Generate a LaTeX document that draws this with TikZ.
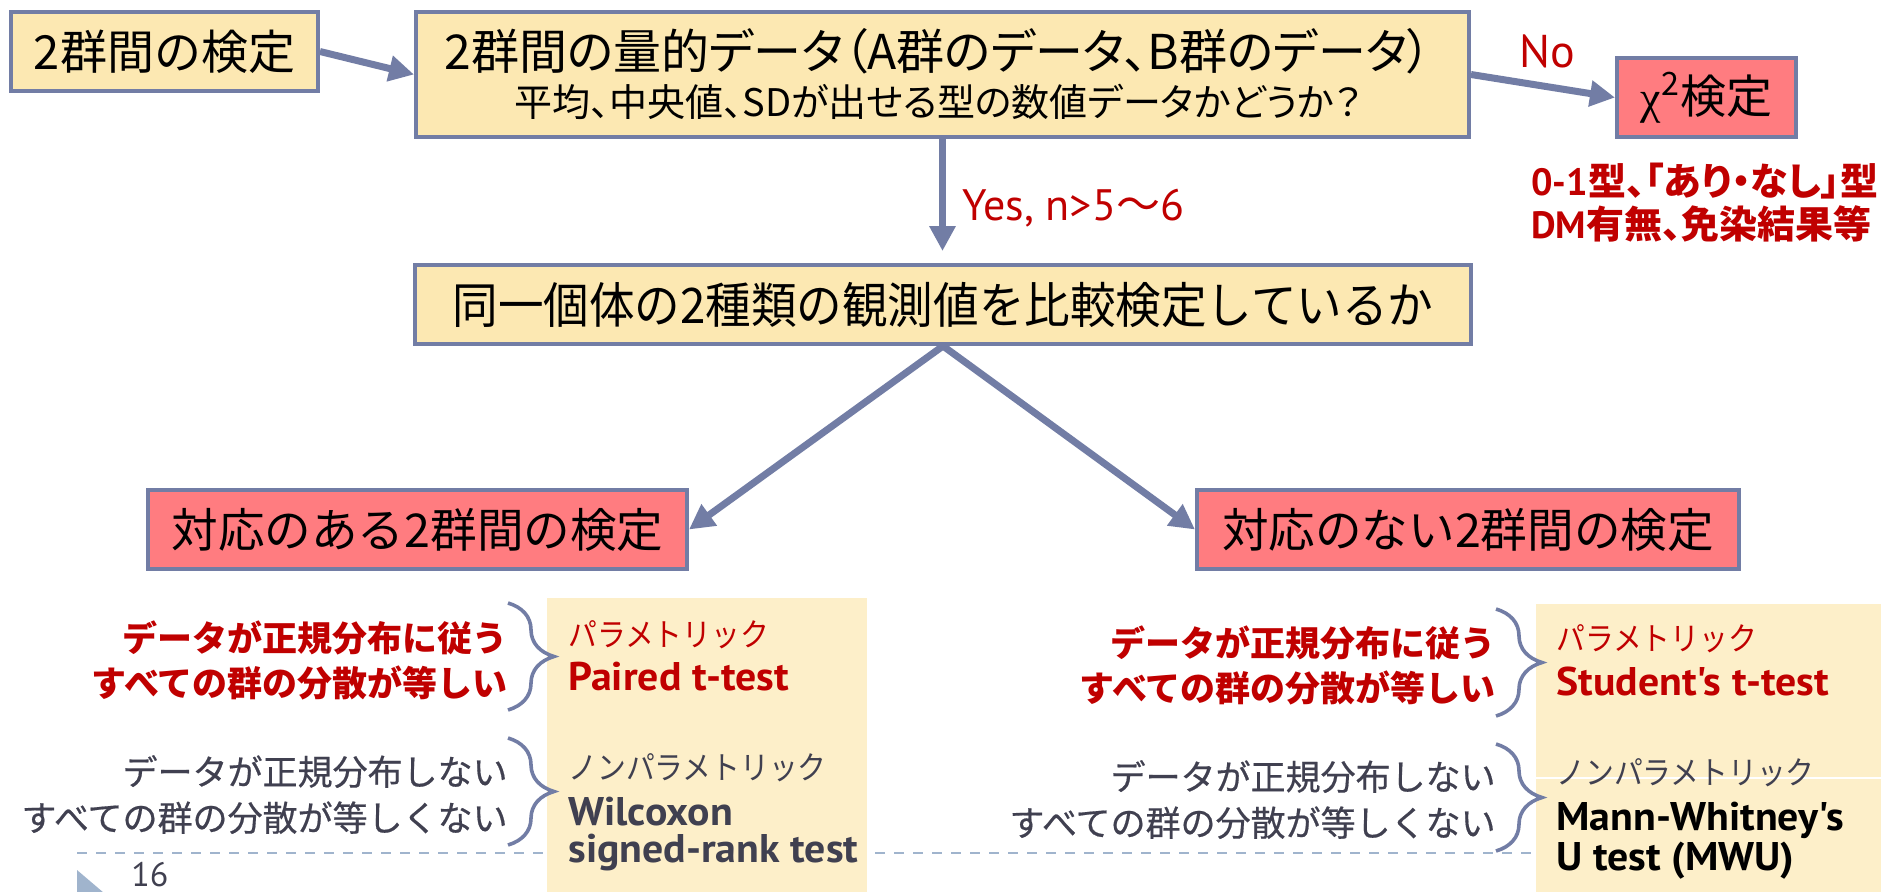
\documentclass[tikz,border=0pt]{standalone}
\usepackage{fontspec}
\setmainfont{Noto Sans CJK JP}
\newfontfamily\gill{PT Sans}
\newfontfamily\grk{Liberation Serif}
\usetikzlibrary{arrows.meta,decorations.pathreplacing}
\definecolor{slate}{RGB}{114,125,165}
\definecolor{ylw}{RGB}{252,232,178}
\definecolor{pnl}{RGB}{253,239,201}
\definecolor{pnk}{RGB}{255,124,128}
\definecolor{dred}{RGB}{192,0,0}
\definecolor{dgray}{RGB}{64,64,80}
\definecolor{dashc}{RGB}{160,180,205}
\newcommand{\myfs}[1]{\fontsize{#1}{#1}\selectfont}
\newcommand{\mypalt}{\addfontfeatures{RawFeature=+palt}}
\newcommand{\mystr}[1]{\addfontfeatures{FakeStretch=#1}}
\newcommand{\myfb}{\addfontfeatures{FakeBold=0.5}}
\begin{document}
\begin{tikzpicture}[x=0.5pt,y=-0.5pt,
  box/.style={draw=slate, line width=2pt, inner sep=0pt, text=black},
  ybox/.style={box, fill=ylw},
  pbox/.style={box, fill=pnk},
  arr/.style={draw=slate, line width=3.5pt, -{Triangle[length=12.5pt,width=12.5pt]}},
  brc/.style={draw=slate, line width=1.8pt, decorate, decoration={brace, amplitude=23pt}},
  dashln/.style={draw=dashc, line width=1.3pt, dash pattern=on 5pt off 4.5pt},
  lbl/.style={inner sep=0pt},
  latb/.style={lbl, anchor=base west, font=\gill\bfseries\myfs{20pt}\mystr{1.045}},
  kata/.style={lbl, anchor=base west, font=\myfs{16pt}\mystr{0.9}}]
\useasboundingbox (0,0) rectangle (1881,891);
\fill[white] (0,0) rectangle (1881,891);

% footer
\draw[dashln] (77,853) -- (1536,853);
\fill[dashc] (77,870) -- (104,893) -- (77,916) -- cycle;
\node[lbl, anchor=base west, font=\gill\myfs{17pt}, text=dgray] (pg) at (131,886) {16};

% panels
\fill[pnl] (547,598) rectangle (867,895);
\fill[pnl] (1536,604) rectangle (1885,895);
\draw[white, line width=0.6pt] (1536,778) -- (1881,778);

% boxes
\node[ybox, minimum width=153.5pt, minimum height=39.5pt, font=\myfs{23.5pt}] (b1) at (164.5,51.5) {2群間の検定};
\node[ybox, minimum width=526.5pt, minimum height=62.5pt] (mn) at (942.5,74.5) {};
\node[lbl, anchor=base, font=\myfs{24pt}\mypalt] (mn1) at (938,69) {2群間の量的データ（A群のデータ、B群のデータ）};
\node[lbl, anchor=base, font=\myfs{19pt}\mypalt] (mn2) at (938,116) {平均、中央値、SDが出せる型の数値データかどうか？};
\node[pbox, minimum width=89.5pt, minimum height=39.5pt, font=\myfs{23pt}] (chi) at (1706.5,97.5) {{\grk χ}\textsuperscript{2}検定};
\node[ybox, minimum width=528pt, minimum height=39.5pt, font=\myfs{24.5pt}\mystr{0.93}] (b3) at (943,304.5) {同一個体の2種類の観測値を比較検定しているか};
\node[pbox, minimum width=269.5pt, minimum height=39.5pt, font=\myfs{23.3pt}] (b4) at (417.5,529.5) {対応のある2群間の検定};
\node[pbox, minimum width=271pt, minimum height=39.5pt, font=\myfs{23.3pt}] (b5) at (1468,529.5) {対応のない2群間の検定};

% labels near arrows
\node[lbl, anchor=base west, font=\gill\myfs{23pt}, text=dred] (no) at (1519,67) {No};
\node[lbl, anchor=base west, font=\gill\myfs{22pt}, text=dred] (yes) at (962,220) {Yes, n>5{\rmfamily ～}6};
\node[lbl, anchor=base west, font=\bfseries\myfs{19pt}\mypalt, text=dred] (nt1) at (1531,195) {{\gill\bfseries 0-1}型、「あり・なし」型};
\node[lbl, anchor=base west, font=\bfseries\myfs{19pt}\mypalt, text=dred] (nt2) at (1531,238) {{\gill\bfseries DM}有無、免染結果等};

% arrows
\draw[arr] (b1.east) -- (mn.west);
\draw[arr] (mn.east) -- (chi.west);
\draw[arr, shorten >=6pt] (mn.south) -- (mn.south |- b3.north);
\draw[arr] (b3.south) -- (b4.east);
\draw[arr] (b3.south) -- (b5.west);

% braces
\coordinate (lb1t) at (508,603); \coordinate (lb1b) at (508,710);
\coordinate (lb2t) at (508,738); \coordinate (lb2b) at (508,845);
\coordinate (rb1t) at (1496,609); \coordinate (rb1b) at (1496,716);
\coordinate (rb2t) at (1496,744); \coordinate (rb2b) at (1496,851);
\draw[brc] (lb1t) -- (lb1b);
\draw[brc] (lb2t) -- (lb2b);
\draw[brc] (rb1t) -- (rb1b);
\draw[brc] (rb2t) -- (rb2b);

% left conditions
\node[lbl, anchor=base east, font=\bfseries\myfs{17.5pt}, text=dred] (l1) at (508,651) {データが正規分布に従う};
\node[lbl, anchor=base east, font=\bfseries\myfs{17.5pt}, text=dred] (l2) at (508,696) {すべての群の分散が等しい};
\node[lbl, anchor=base east, font=\myfs{17.5pt}\myfb, text=dgray] (l3) at (508,785) {データが正規分布しない};
\node[lbl, anchor=base east, font=\myfs{17.5pt}\myfb, text=dgray] (l4) at (508,831) {すべての群の分散が等しくない};
\node[lbl, anchor=base east, font=\bfseries\myfs{17.5pt}, text=dred] (r1) at (1496,656) {データが正規分布に従う};
\node[lbl, anchor=base east, font=\bfseries\myfs{17.5pt}, text=dred] (r2) at (1496,701) {すべての群の分散が等しい};
\node[lbl, anchor=base east, font=\myfs{17.5pt}\myfb, text=dgray] (r3) at (1496,790) {データが正規分布しない};
\node[lbl, anchor=base east, font=\myfs{17.5pt}\myfb, text=dgray] (r4) at (1496,836) {すべての群の分散が等しくない};

% panel texts
\node[kata, text=dred] (p1) at (568,646) {パラメトリック};
\node[latb, text=dred] (p2) at (568,690) {Paired t-test};
\node[kata, text=dgray] (p3) at (568,779) {ノンパラメトリック};
\node[latb, text=dgray] (p4) at (568,825) {Wilcoxon};
\node[latb, text=dgray] (p5) at (568,862) {signed-rank test};
\node[kata, text=dred] (q1) at (1556,650) {パラメトリック};
\node[latb, text=dred] (q2) at (1556,695) {Student's t-test};
\node[kata, text=dgray] (q3) at (1556,784) {ノンパラメトリック};
\node[latb, text=black] (q4) at (1556,830) {Mann-Whitney's};
\node[latb, text=black] (q5) at (1556,870) {U test (MWU)};
\end{tikzpicture}
\end{document}
